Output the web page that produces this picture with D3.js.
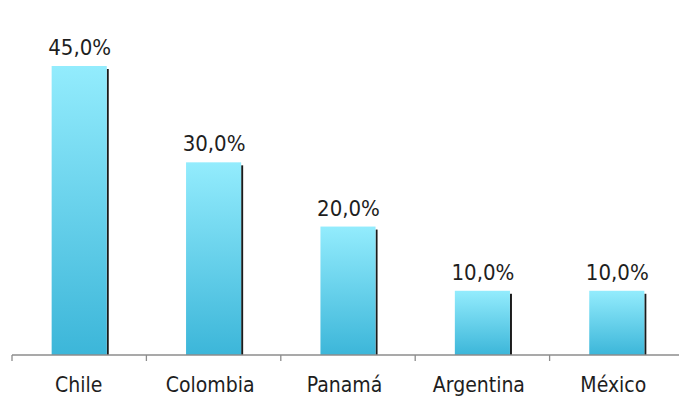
<!DOCTYPE html>
<html>
<head>
<meta charset="utf-8">
<script src="https://cdn.jsdelivr.net/npm/d3@7"></script>
<style>
  html, body { margin: 0; padding: 0; background: #fff; }
  svg { display: block; }
</style>
</head>
<body>
<svg id="chart" width="679" height="398"></svg>
<script>
// Share by country
const countries = ["Chile", "Colombia", "Panamá", "Argentina", "México"];
const shares = [45, 30, 20, 10, 10];

const W = 679, H = 398;
const svg = d3.select("#chart");

const x = d3.scaleBand()
  .domain(countries)
  .range([12, 684])
  .paddingInner(0.59)
  .paddingOuter(0.295);

const y = d3.scaleLinear()
  .domain([0, 45])
  .range([355, 66]);

const fmt = v => d3.format(".1f")(v).replace(".", ",") + "%";
const FONT = "'DejaVu Sans Condensed', 'DejaVu Sans', sans-serif";

// Bar gradient: light cyan at the top fading to a deeper blue
const defs = svg.append("defs");
const grad = defs.append("linearGradient")
  .attr("id", "barGrad")
  .attr("x1", 0).attr("y1", 0).attr("x2", 0).attr("y2", 1);
grad.append("stop").attr("offset", "0%").attr("stop-color", "#93ecfd");
grad.append("stop").attr("offset", "100%").attr("stop-color", "#3cb6d9");

const data = countries.map((c, i) => ({ c, v: shares[i] }));
const mid = c => x(c) + x.bandwidth() / 2;

// Dark edge on the right of each bar
svg.append("g").selectAll("rect")
  .data(data)
  .join("rect")
  .attr("x", d => x(d.c) + x.bandwidth())
  .attr("y", d => y(d.v) + 3)
  .attr("width", 2)
  .attr("height", d => y(0) - y(d.v) - 3)
  .attr("fill", "#1b1b1b");

// Bars
svg.append("g").selectAll("rect")
  .data(data)
  .join("rect")
  .attr("x", d => x(d.c))
  .attr("y", d => y(d.v))
  .attr("width", x.bandwidth())
  .attr("height", d => y(0) - y(d.v))
  .attr("fill", "url(#barGrad)");

// Value labels
svg.append("g").selectAll("text")
  .data(data)
  .join("text")
  .attr("x", d => mid(d.c) + 0.5)
  .attr("y", d => y(d.v) - 11)
  .attr("text-anchor", "middle")
  .attr("font-family", FONT)
  .attr("font-size", 22)
  .attr("fill", "#1e1e1e")
  .text(d => fmt(d.v));

// Category axis with boundary ticks
const axisG = svg.append("g").attr("stroke", "#8c8c8c").attr("stroke-width", 1.3);
axisG.append("line")
  .attr("x1", 12).attr("x2", W)
  .attr("y1", y(0)).attr("y2", y(0));
const step = x.step();
countries.forEach(c => {
  const tx = mid(c) - step / 2;
  axisG.append("line")
    .attr("x1", tx).attr("x2", tx)
    .attr("y1", y(0)).attr("y2", y(0) + 6);
});

svg.append("g").selectAll("text")
  .data(countries)
  .join("text")
  .attr("x", (d, i) => mid(d) - (i === 0 ? 0.5 : 3.5))
  .attr("y", 392)
  .attr("text-anchor", "middle")
  .attr("font-family", FONT)
  .attr("font-size", 21)
  .attr("fill", "#1e1e1e")
  .text(d => d);
</script>
</body>
</html>
